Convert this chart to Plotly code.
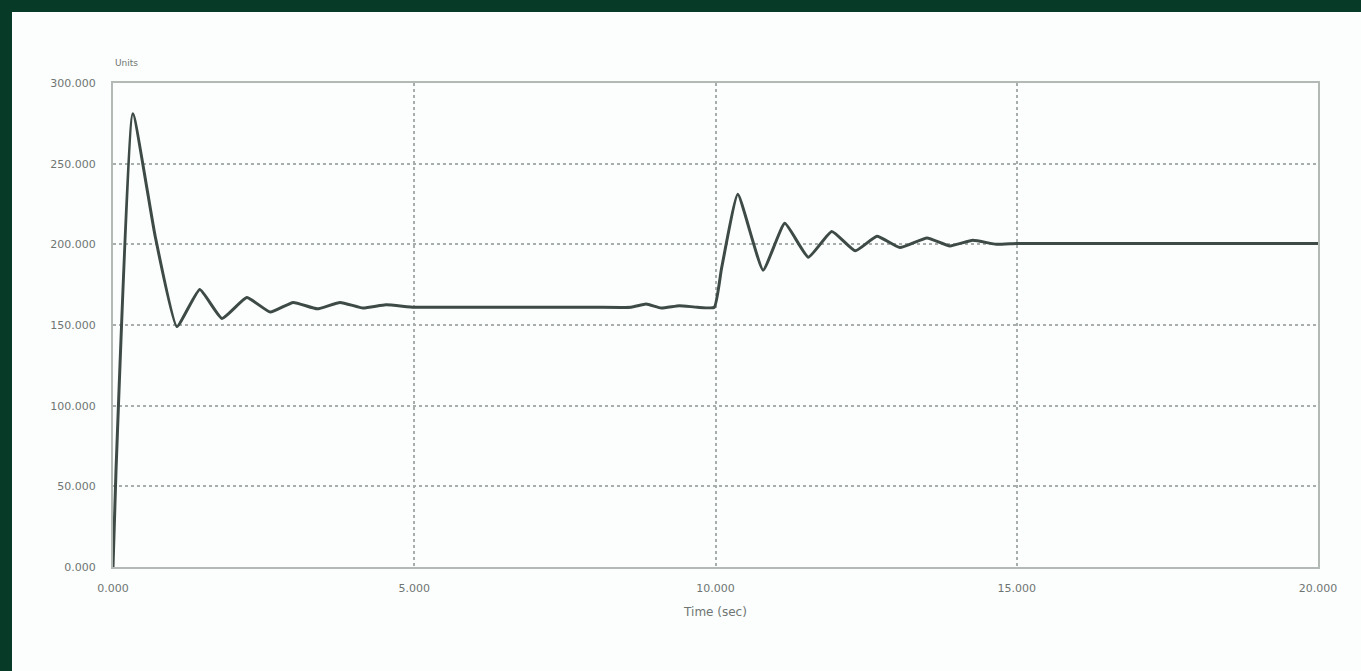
import plotly.graph_objects as go

# Data
time = [0.0, 0.05, 0.33, 0.7, 1.06, 1.44, 1.81, 2.22, 2.61, 2.99, 3.39, 3.77, 4.15, 4.53,
        5.0, 6.0, 7.0, 8.0, 8.6, 8.85, 9.1, 9.4, 9.7, 9.98,
        10.1, 10.37, 10.79, 11.15, 11.54, 11.93, 12.32, 12.68, 13.06, 13.51, 13.89, 14.27,
        14.66, 15.0, 16.0, 17.0, 18.0, 19.0, 20.0]
value = [0.0, 60.0, 281.0, 205.0, 149.0, 172.0, 154.0, 167.0, 158.0, 164.0, 160.0, 164.0, 160.5, 162.5,
         161.0, 161.0, 161.0, 161.0, 161.0, 163.0, 160.5, 162.0, 161.0, 161.0,
         185.0, 231.0, 184.0, 213.0, 192.0, 208.0, 196.0, 205.0, 198.0, 204.0, 199.0, 202.5,
         200.0, 200.5, 200.5, 200.5, 200.5, 200.5, 200.5]
x_ticks = [0, 5, 10, 15, 20]
y_ticks = [0, 50, 100, 150, 200, 250, 300]
x_title = "Time (sec)"
y_unit = "Units"

W, H = 1361, 671
ml, mr, mt, mb = 113, 43, 83, 104
pw, ph = W - ml - mr, H - mt - mb


def px_to_paper_x(px):
    return (px - ml) / pw


def px_to_paper_y(py):
    return (mt + ph - py) / ph


fig = go.Figure()
fig.add_trace(go.Scatter(x=time, y=value, mode="lines",
                         line=dict(color="#3d4a45", width=3, shape="spline", smoothing=0.4),
                         showlegend=False, hoverinfo="skip"))

grid = dict(showgrid=True, gridcolor="#a8aeab", gridwidth=2, griddash="dot",
            showline=True, linecolor="#b3bab6", linewidth=2, mirror=True,
            zeroline=False, ticks="", tickfont=dict(family="DejaVu Sans", size=11, color="#6f7572"),
            tickformat=".3f")

fig.update_xaxes(range=[0, 20], tickvals=x_ticks, ticklabelstandoff=10, **grid,
                 title=dict(text=x_title, font=dict(family="DejaVu Sans", size=12, color="#6f7572"),
                            standoff=13))
fig.update_yaxes(range=[0, 300], tickvals=y_ticks, ticklabelstandoff=13, **grid)

# white card over dark green frame
fig.add_shape(type="rect", xref="paper", yref="paper", layer="below",
              x0=px_to_paper_x(12), x1=px_to_paper_x(W + 5),
              y0=px_to_paper_y(H + 5), y1=px_to_paper_y(12),
              fillcolor="#fbfefd", line=dict(width=0))

fig.add_annotation(text=y_unit, xref="paper", yref="paper", x=0.0, y=px_to_paper_y(63),
                   xanchor="left", yanchor="middle", showarrow=False,
                   font=dict(family="DejaVu Sans", size=9, color="#6f7572"))

fig.update_layout(width=W, height=H, margin=dict(l=ml, r=mr, t=mt, b=mb),
                  paper_bgcolor="#073a27", plot_bgcolor="#fdfefe")

fig.write_html("out.html")
